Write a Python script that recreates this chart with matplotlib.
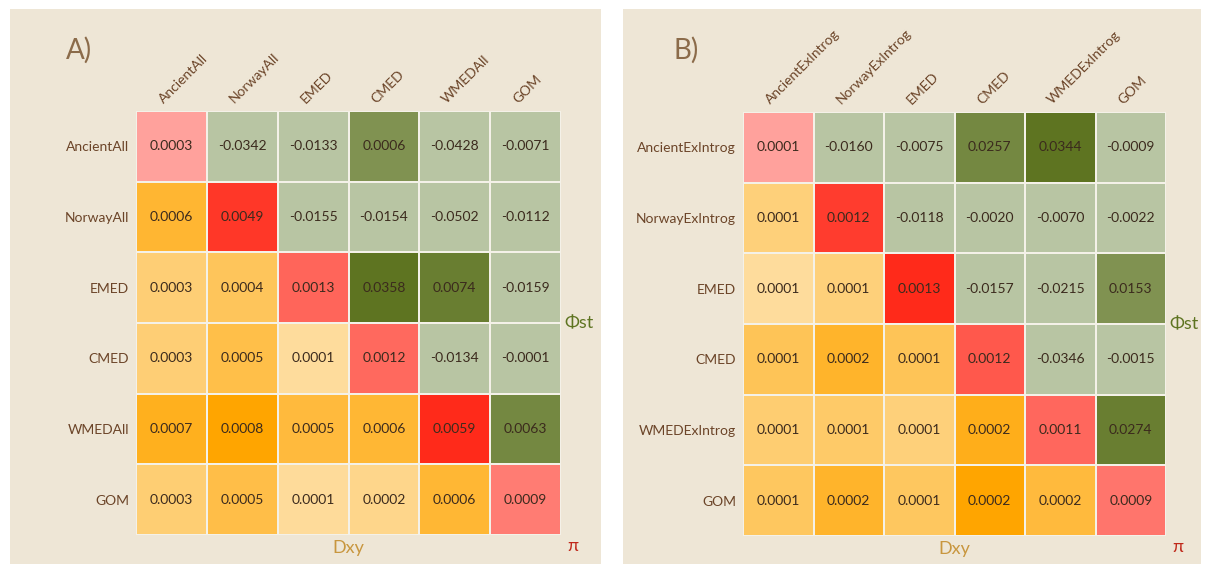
import numpy as np
import matplotlib.pyplot as plt
from matplotlib.colors import LinearSegmentedColormap, Normalize, TwoSlopeNorm
from matplotlib.patches import Rectangle

plt.rcParams['font.family'] = ['Lato', 'DejaVu Sans']

# ---- panel A data ----
labels_a = ['AncientAll', 'NorwayAll', 'EMED', 'CMED', 'WMEDAll', 'GOM']
# Phi_st, upper triangle row by row
phi_a = [-0.0342, -0.0133, 0.0006, -0.0428, -0.0071,
         -0.0155, -0.0154, -0.0502, -0.0112,
         0.0358, 0.0074, -0.0159,
         -0.0134, -0.0001,
         0.0063]
# pi, diagonal
pi_a = [0.0003, 0.0049, 0.0013, 0.0012, 0.0059, 0.0009]
# Dxy, lower triangle row by row (unrounded estimates)
dxy_a = [0.00057,
         0.00026, 0.00038,
         0.00026, 0.00046, 0.00008,
         0.00066, 0.00080, 0.00052, 0.00056,
         0.00027, 0.00047, 0.00009, 0.00016, 0.00056]

# ---- panel B data ----
labels_b = ['AncientExIntrog', 'NorwayExIntrog', 'EMED', 'CMED', 'WMEDExIntrog', 'GOM']
phi_b = [-0.0160, -0.0075, 0.0257, 0.0344, -0.0009,
         -0.0118, -0.0020, -0.0070, -0.0022,
         -0.0157, -0.0215, 0.0153,
         -0.0346, -0.0015,
         0.0274]
pi_b = [0.00010, 0.00124, 0.00128, 0.00118, 0.00112, 0.00088]
dxy_b = [0.00010,
         0.00006, 0.00010,
         0.00014, 0.00019, 0.00014,
         0.00011, 0.00012, 0.00010, 0.00021,
         0.00013, 0.00019, 0.00013, 0.00024, 0.00017]

W, H = 1206, 564
cmap_phi = LinearSegmentedColormap.from_list('phi', ['#b8c5a3', '#5e7421'])
cmap_pi = LinearSegmentedColormap.from_list('pi', ['#ffa19c', '#ff2a1a'])
cmap_dxy = LinearSegmentedColormap.from_list('dxy', ['#fedc9c', '#ffa500'])
txt_col = '#3b2a1d'
lab_col = '#6b4428'
edge_col = '#f4f1e8'


def phi_shade(vals):
    # negatives get the lightest green, positives shaded by rank
    vals = np.asarray(vals)
    shade = np.zeros(len(vals))
    pos = vals > 0
    r = vals[pos].argsort().argsort()
    shade[pos] = 0.5 + 0.5 * (r + 1) / pos.sum()
    return shade


def draw_panel(px, labels, phi, pi, dxy, tag):
    n = len(labels)
    iu = np.triu_indices(n, 1)
    il = np.tril_indices(n, -1)
    m_phi = np.full((n, n), np.nan)
    m_phi[iu] = phi_shade(phi)
    m_pi = np.full((n, n), np.nan)
    m_pi[np.diag_indices(n)] = pi
    m_dxy = np.full((n, n), np.nan)
    m_dxy[il] = dxy

    x0, y0, x1, y1 = px
    ax = fig.add_axes([x0 / W, 1 - y1 / H, (x1 - x0) / W, (y1 - y0) / H])
    ax.set_facecolor('none')
    kw = dict(edgecolors=edge_col, linewidth=1.2)
    ax.pcolormesh(np.ma.masked_invalid(m_phi), cmap=cmap_phi, norm=Normalize(0, 1), **kw)
    ax.pcolormesh(np.ma.masked_invalid(m_pi), cmap=cmap_pi,
                  norm=TwoSlopeNorm(np.median(pi), min(pi), max(pi)), **kw)
    ax.pcolormesh(np.ma.masked_invalid(m_dxy), cmap=cmap_dxy,
                  norm=Normalize(min(dxy), max(dxy)), **kw)
    ax.set_xlim(0, n)
    ax.set_ylim(n, 0)

    # cell values
    vals = np.zeros((n, n))
    vals[iu] = phi
    vals[il] = dxy
    vals[np.diag_indices(n)] = pi
    for i in range(n):
        for j in range(n):
            ax.text(j + 0.5, i + 0.5, f'{vals[i, j]:.4f}', ha='center', va='center',
                    color=txt_col, fontsize=10)

    for s in ax.spines.values():
        s.set_visible(False)
    ax.set_xticks([])
    ax.set_yticks(np.arange(n) + 0.5, labels)
    ax.tick_params(axis='y', length=0, pad=5, labelsize=10, labelcolor=lab_col)
    for j, lab in enumerate(labels):
        ax.annotate(lab, (j + 0.5, 0), xytext=(-5.5, 5), textcoords='offset points',
                    rotation=45, rotation_mode='anchor', ha='left', va='baseline',
                    color=lab_col, fontsize=10, annotation_clip=False)

    ax.text(1.008, 0.5, 'Φst', transform=ax.transAxes, color='#5e7421',
            fontsize=13, ha='left', va='center')
    ax.text(0.5, -0.012, 'Dxy', transform=ax.transAxes, color='#c8963e',
            fontsize=13, ha='center', va='top')
    ax.text(1.014, -0.008, 'π', transform=ax.transAxes, color='#c0281a',
            fontsize=13, ha='left', va='top')
    fig.text((x0 - 70) / W, 1 - 50 / H, tag, color='#8b6b4a', fontsize=20,
             ha='left', va='center')


fig = plt.figure(figsize=(W / 100, H / 100), dpi=100, facecolor='white')
fig.patches.append(Rectangle((10 / W, 0), 591 / W, 555 / H, transform=fig.transFigure,
                             facecolor='#eee6d6', edgecolor='none', zorder=-1))
fig.patches.append(Rectangle((623 / W, 0), 578 / W, 555 / H, transform=fig.transFigure,
                             facecolor='#eee6d6', edgecolor='none', zorder=-1))

draw_panel((136, 111, 561, 535), labels_a, phi_a, pi_a, dxy_a, 'A)')
draw_panel((743, 112, 1166, 536), labels_b, phi_b, pi_b, dxy_b, 'B)')

fig.savefig('out.png', dpi=100)
